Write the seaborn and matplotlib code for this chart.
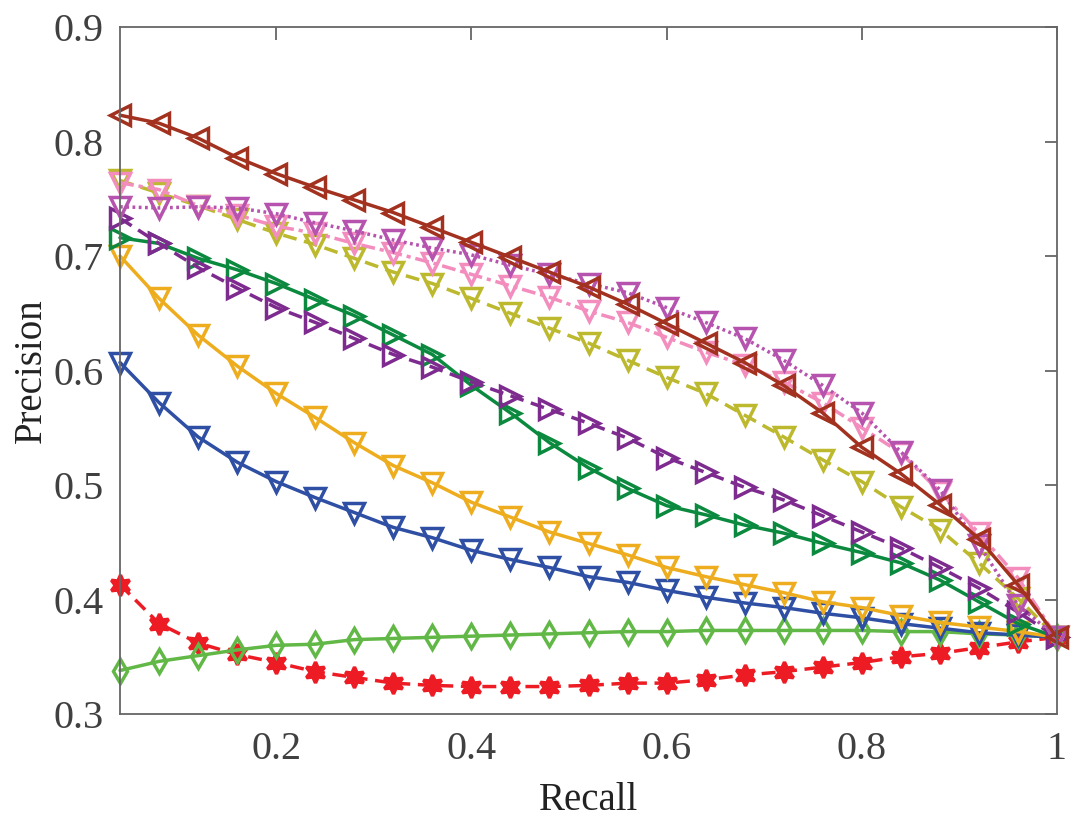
import numpy as np
import pandas as pd
import matplotlib
matplotlib.use("Agg")
import matplotlib.pyplot as plt
import seaborn as sns

# ── données ──────────────────────────────────────────────────
recall = [0.04, 0.08, 0.12, 0.16, 0.20, 0.24, 0.28, 0.32, 0.36, 0.40,
          0.44, 0.48, 0.52, 0.56, 0.60, 0.64, 0.68, 0.72, 0.76, 0.80,
          0.84, 0.88, 0.92, 0.96, 1.00]

prec_red = [0.413, 0.379, 0.362, 0.352, 0.345, 0.337, 0.332, 0.327, 0.325, 0.324,
            0.324, 0.324, 0.325, 0.327, 0.327, 0.330, 0.334, 0.337, 0.341, 0.345,
            0.350, 0.353, 0.358, 0.363, 0.367]
prec_lgreen = [0.338, 0.346, 0.351, 0.356, 0.360, 0.361, 0.365, 0.366, 0.367, 0.368,
               0.369, 0.370, 0.371, 0.372, 0.372, 0.373, 0.373, 0.373, 0.373, 0.373,
               0.372, 0.372, 0.370, 0.369, 0.367]
prec_blue = [0.607, 0.572, 0.542, 0.520, 0.503, 0.489, 0.476, 0.463, 0.454, 0.443,
             0.435, 0.428, 0.420, 0.415, 0.408, 0.402, 0.397, 0.393, 0.388, 0.384,
             0.379, 0.375, 0.371, 0.369, 0.367]
prec_orange = [0.700, 0.663, 0.631, 0.604, 0.580, 0.559, 0.537, 0.517, 0.502, 0.485,
               0.472, 0.459, 0.449, 0.439, 0.428, 0.420, 0.413, 0.406, 0.398, 0.393,
               0.386, 0.380, 0.376, 0.372, 0.367]
prec_green = [0.716, 0.711, 0.698, 0.688, 0.676, 0.662, 0.648, 0.631, 0.614, 0.587,
              0.563, 0.537, 0.515, 0.497, 0.482, 0.474, 0.465, 0.458, 0.449, 0.441,
              0.432, 0.417, 0.398, 0.379, 0.367]
prec_purple = [0.733, 0.711, 0.690, 0.672, 0.655, 0.642, 0.628, 0.614, 0.603, 0.590,
               0.578, 0.566, 0.554, 0.541, 0.524, 0.511, 0.498, 0.487, 0.473, 0.459,
               0.445, 0.428, 0.410, 0.389, 0.367]
prec_olive = [0.766, 0.755, 0.744, 0.732, 0.720, 0.710, 0.698, 0.686, 0.676, 0.663,
              0.650, 0.637, 0.624, 0.609, 0.594, 0.580, 0.561, 0.542, 0.522, 0.503,
              0.481, 0.461, 0.432, 0.401, 0.367]
prec_pink = [0.764, 0.758, 0.744, 0.736, 0.726, 0.720, 0.711, 0.703, 0.694, 0.684,
             0.674, 0.664, 0.652, 0.642, 0.629, 0.616, 0.605, 0.590, 0.572, 0.550,
             0.528, 0.494, 0.458, 0.419, 0.367]
prec_magenta = [0.743, 0.742, 0.743, 0.742, 0.737, 0.729, 0.722, 0.714, 0.707, 0.701,
                0.692, 0.684, 0.676, 0.668, 0.655, 0.642, 0.628, 0.609, 0.587, 0.563,
                0.529, 0.496, 0.448, 0.395, 0.367]
prec_brown = [0.823, 0.816, 0.803, 0.786, 0.772, 0.760, 0.749, 0.738, 0.725, 0.712,
              0.699, 0.686, 0.673, 0.658, 0.641, 0.624, 0.607, 0.587, 0.563, 0.533,
              0.510, 0.483, 0.453, 0.413, 0.367]

x_ticks = [0.2, 0.4, 0.6, 0.8, 1.0]
x_ticklabels = ["0.2", "0.4", "0.6", "0.8", "1"]
y_ticks = [0.3, 0.4, 0.5, 0.6, 0.7, 0.8, 0.9]
y_ticklabels = ["0.3", "0.4", "0.5", "0.6", "0.7", "0.8", "0.9"]

DASH = (0, (4.0, 2.2))
# (valeurs, couleur, marqueur, style de trait, marqueur plein ?)
series = [
    (prec_red,     "#ED1C24", (6, 1, 0), DASH, True),
    (prec_lgreen,  "#62B846", "d",       "-",  False),
    (prec_blue,    "#2E4FA3", "v",       "-",  False),
    (prec_orange,  "#EEAD1E", "v",       "-",  False),
    (prec_green,   "#0B8A3F", ">",       "-",  False),
    (prec_purple,  "#7E2B8F", ">",       DASH, False),
    (prec_olive,   "#BDB92E", "v",       DASH, False),
    (prec_pink,    "#F28DBE", "v",       (0, (4.0, 1.4, 1.2, 1.4)), False),
    (prec_magenta, "#B653AE", "v",       (0, (0.8, 1.0)), False),
    (prec_brown,   "#A2321F", "<",       "-",  False),
]

sns.set_style("white")
plt.rcParams["font.family"] = ["Liberation Serif", "DejaVu Serif"]

fig = plt.figure(figsize=(10.87, 8.27), dpi=100)
ax = fig.add_axes([0.1104, 0.1366, 0.862, 0.8307])

for vals, color, marker, ls, filled in series:
    df = pd.DataFrame({"Recall": recall, "Precision": vals})
    if marker == "d":
        ms = 12
    elif filled:
        ms = 15
    else:
        ms = 14
    sns.lineplot(data=df, x="Recall", y="Precision", ax=ax,
                 color=color, linestyle=ls, linewidth=2.5,
                 marker=marker, markersize=ms,
                 markeredgewidth=2.5, markeredgecolor=color,
                 markerfacecolor=color if filled else "none",
                 clip_on=False)

ax.set_xlim(0.04, 1.0)
ax.set_ylim(0.3, 0.9)
ax.set_xticks(x_ticks)
ax.set_xticklabels(x_ticklabels)
ax.set_yticks(y_ticks)
ax.set_yticklabels(y_ticklabels)

txt_color = "#404040"
ax.tick_params(direction="in", length=9, width=1.3, colors="#666666",
               labelcolor=txt_color, labelsize=29, top=True, right=True,
               pad=12)
for s in ax.spines.values():
    s.set_color("#666666")
    s.set_linewidth(1.3)

ax.set_xlabel("Recall", fontsize=28, color="#222222", labelpad=10)
ax.set_ylabel("Precision", fontsize=28, color="#222222", labelpad=2)

fig.savefig("out.png", dpi=100)
